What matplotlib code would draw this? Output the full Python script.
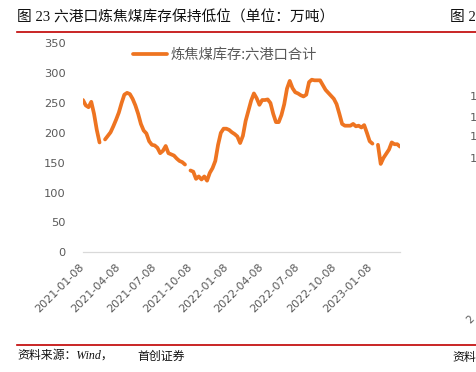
import numpy as np
import pandas as pd
import matplotlib
matplotlib.use("Agg")
import matplotlib.pyplot as plt
from matplotlib.lines import Line2D

plt.rcParams['font.family'] = ['DejaVu Sans', 'Noto Sans CJK SC']

# ---------------- data ----------------
title = "图 23 六港口炼焦煤库存保持低位（单位：万吨）"
series_name = "炼焦煤库存:六港口合计"
source_a = "资料来源：Wind，"
source_b = "首创证券"
start_date = "2021-01-08"
values = [255, 246, 243, 252, 232, 205, 184, np.nan, 189, 195,
          201, 211, 222, 234, 250, 264, 267, 265, 257, 246,
          232, 215, 204, 199, 186, 180, 179, 175, 166, 170,
          178, 166, 164, 162, 157, 153, 151, 147, np.nan, 137,
          135, 123, 127, 122, 127, 120, 133, 141, 153, 180,
          200, 207, 207, 205, 201, 198, 194, 183, 195, 220,
          237, 254, 266, 258, 247, 255, 255, 256, 250, 232,
          218, 218, 230, 248, 274, 287, 275, 268, 266, 263,
          261, 264, 285, 289, 288, 288, 288, 280, 272, 267,
          262, 257, 248, 232, 215, 212, 212, 212, 215, 211,
          212, 209, 213, 200, 186, 182, np.nan, 180, 148, 158,
          165, 172, 184, 181, 181, 177]
tick_dates = ["2021-01-08", "2021-04-08", "2021-07-08", "2021-10-08",
              "2022-01-08", "2022-04-08", "2022-07-08", "2022-10-08",
              "2023-01-08"]
y_ticks = [0, 50, 100, 150, 200, 250, 300, 350]

dates = pd.date_range(start_date, periods=len(values), freq="7D")

# ---------------- figure ----------------
W, H = 476, 372
fig = plt.figure(figsize=(W / 100, H / 100), dpi=100)
fig.patch.set_facecolor("white")

ax = fig.add_axes([83 / W, 1 - 252.3 / H, 317 / W, (252.3 - 43.3) / H])
ax.plot(dates, values, color="#EE7421", lw=2.7, solid_capstyle="round",
        solid_joinstyle="round", label=series_name)

ax.set_xlim(dates[0], dates[-1])
ax.set_ylim(0, 350)
ax.set_yticks(y_ticks)
ax.set_yticklabels([str(v) for v in y_ticks])
td = pd.to_datetime(tick_dates)
ax.set_xticks(td)
ax.set_xticklabels(tick_dates)

for s in ["top", "right", "left"]:
    ax.spines[s].set_visible(False)
ax.spines["bottom"].set_color("#D9D9D9")
ax.spines["bottom"].set_linewidth(0.9)

ax.tick_params(axis="y", length=0, pad=12.5, labelsize=8.2, labelcolor="#595959")
ax.tick_params(axis="x", length=0, pad=9.5, labelsize=8.0, labelcolor="#595959")
for lab in ax.get_xticklabels():
    lab.set_rotation(45)
    lab.set_ha("right")
    lab.set_va("center")
    lab.set_rotation_mode("anchor")

leg = ax.legend(loc="center left", bbox_to_anchor=(133 / W, 1 - 55 / H),
                bbox_transform=fig.transFigure, frameon=False,
                prop={"family": ["Noto Sans CJK SC"], "size": 10.3},
                handlelength=2.4, handletextpad=0.25, borderpad=0,
                borderaxespad=0)
for t in leg.get_texts():
    t.set_color("#595959")

# ---------------- title / frame texts ----------------
fig.text(17 / W, 1 - 17 / H, title, fontsize=10.6, va="center", ha="left",
         color="#111111", family=["Liberation Serif", "Noto Sans CJK SC"])
fig.add_artist(Line2D([17 / W, 1], [1 - 31.7 / H] * 2, color="#C00000", lw=1.2))
fig.add_artist(Line2D([17 / W, 1], [1 - 344.5 / H] * 2, color="#C00000", lw=1.2))
fig.text(17 / W, 1 - 356 / H, source_a, fontsize=8.6, va="center", ha="left",
         style="italic", color="#111111",
         family=["Liberation Serif", "Noto Sans CJK SC"])
fig.text(137 / W, 1 - 356 / H, source_b, fontsize=8.6, va="center", ha="left",
         color="#111111", family=["Noto Sans CJK SC"])

# partial neighbouring chart at the right edge
fig.text(476 / W, 1 - 17 / H, "图 2", fontsize=10.6, va="center", ha="right",
         color="#111111", family=["Liberation Serif", "Noto Sans CJK SC"])
for yy in [96.7, 117.5, 137.5, 159.5]:
    fig.text(477 / W, 1 - yy / H, "1", fontsize=8.2, va="center", ha="right",
             color="#595959")
fig.text(476 / W, 1 - 320 / H, "2", fontsize=7.6, va="center", ha="right",
         rotation=45, color="#595959")
fig.text(476 / W, 1 - 358 / H, "资料", fontsize=8.6, va="center", ha="right",
         color="#111111", family=["Noto Sans CJK SC"])

fig.savefig("out.png", dpi=100, facecolor="white")
